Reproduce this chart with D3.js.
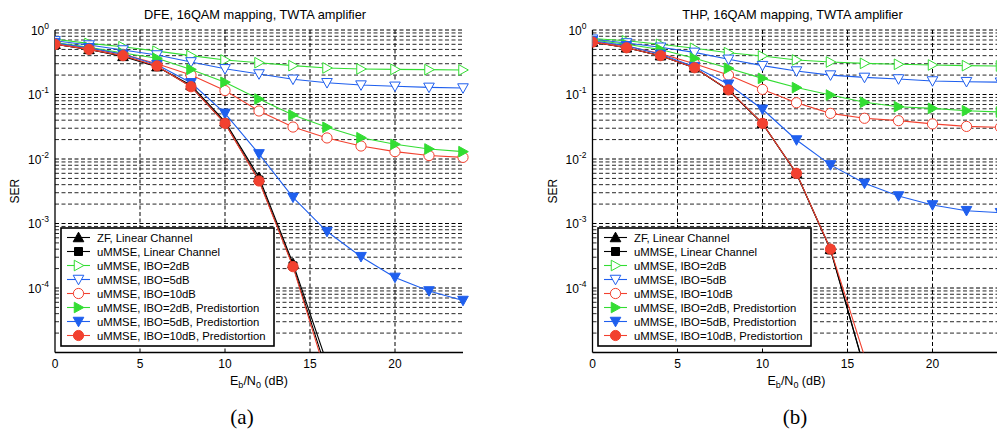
<!DOCTYPE html>
<html>
<head>
<meta charset="utf-8">
<script src="https://cdn.jsdelivr.net/npm/d3@7"></script>
<style>
  html, body { margin: 0; padding: 0; background: #fff; }
  svg { display: block; }
  text { font-family: "Liberation Sans", Arial, Helvetica, sans-serif; fill: #000; }
</style>
</head>
<body>
<svg id="fig" width="997" height="434"></svg>
<script>
// Eb/N0 grid (dB)
const snr = [0, 2, 4, 6, 8, 10, 12, 14, 16, 18, 20, 22, 24];

// Legend labels, in plotting order
const seriesNames = [
  "ZF, Linear Channel",
  "uMMSE, Linear Channel",
  "uMMSE, IBO=2dB",
  "uMMSE, IBO=5dB",
  "uMMSE, IBO=10dB",
  "uMMSE, IBO=2dB, Predistortion",
  "uMMSE, IBO=5dB, Predistortion",
  "uMMSE, IBO=10dB, Predistortion"
];

// DFE panel: symbol error rate per curve (aligned with snr)
const dfeZf       = [0.60, 0.50, 0.39, 0.27, 0.14, 0.038, 0.0052, 2.4e-4, 6.8e-6];
const dfeMmseLin  = [0.60, 0.50, 0.40, 0.275, 0.133, 0.036, 0.0047, 2.2e-4, 5.0e-6];
const dfeIbo2     = [0.72, 0.62, 0.55, 0.47, 0.40, 0.343, 0.311, 0.28, 0.258, 0.249, 0.245, 0.243, 0.24];
const dfeIbo5     = [0.68, 0.585, 0.49, 0.41, 0.32, 0.25, 0.208, 0.172, 0.152, 0.14, 0.134, 0.129, 0.126];
const dfeIbo10    = [0.62, 0.52, 0.42, 0.30, 0.20, 0.115, 0.0555, 0.0313, 0.0212, 0.0159, 0.013, 0.0113, 0.0106];
const dfeIbo2Pd   = [0.64, 0.54, 0.44, 0.364, 0.245, 0.155, 0.085, 0.048, 0.031, 0.0214, 0.0169, 0.0143, 0.013];
const dfeIbo5Pd   = [0.63, 0.53, 0.42, 0.29, 0.152, 0.051, 0.012, 0.00255, 7.5e-4, 3.06e-4, 1.46e-4, 9.0e-5, 6.4e-5];
const dfeIbo10Pd  = [0.60, 0.50, 0.40, 0.277, 0.132, 0.0357, 0.00456, 2.14e-4, 4.1e-6];

// THP panel
const thpZf       = [0.65, 0.53, 0.40, 0.26, 0.118, 0.0357, 0.006, 4.0e-4, 5.7e-6];
const thpMmseLin  = [0.65, 0.53, 0.40, 0.26, 0.116, 0.0355, 0.0059, 3.9e-4, 5.5e-6];
const thpIbo2     = [0.74, 0.68, 0.60, 0.52, 0.445, 0.395, 0.343, 0.319, 0.304, 0.294, 0.287, 0.28, 0.277];
const thpIbo5     = [0.72, 0.63, 0.54, 0.45, 0.351, 0.28, 0.231, 0.20, 0.184, 0.174, 0.162, 0.158, 0.155];
const thpIbo10    = [0.66, 0.56, 0.43, 0.30, 0.20, 0.12, 0.0746, 0.051, 0.0428, 0.0393, 0.035, 0.032, 0.031];
const thpIbo2Pd   = [0.70, 0.60, 0.50, 0.364, 0.255, 0.178, 0.128, 0.098, 0.0757, 0.0647, 0.061, 0.056, 0.0535];
const thpIbo5Pd   = [0.68, 0.57, 0.42, 0.27, 0.144, 0.059, 0.0197, 0.0081, 0.0042, 0.00267, 0.00194, 0.00158, 0.00147];
const thpIbo10Pd  = [0.65, 0.53, 0.40, 0.26, 0.118, 0.0357, 0.006, 4.0e-4, 8.7e-6];

// Axis ticks
const xTicks = [0, 5, 10, 15, 20];
const yDecades = [0, -1, -2, -3, -4];

// Curve styling: colour, marker shape, filled or open
const styles = [
  { color: "#000000", shape: "up",    fill: true  },
  { color: "#000000", shape: "square", fill: true },
  { color: "#33dd33", shape: "right", fill: false },
  { color: "#1f5fee", shape: "down",  fill: false },
  { color: "#f2412f", shape: "circle", fill: false },
  { color: "#33dd33", shape: "right", fill: true  },
  { color: "#1f5fee", shape: "down",  fill: true  },
  { color: "#f2412f", shape: "circle", fill: true }
];

function markerPath(shape) {
  const s = 5.3;
  switch (shape) {
    case "up":     return `M0,${-s}L${s},${s*0.8}L${-s},${s*0.8}Z`;
    case "down":   return `M0,${s}L${s},${-s*0.8}L${-s},${-s*0.8}Z`;
    case "right":  return `M${s},0L${-s*0.8},${s}L${-s*0.8},${-s}Z`;
    case "square": return `M-4,-4H4V4H-4Z`;
    case "circle": return d3.symbol(d3.symbolCircle, 82)();
  }
}

const svg = d3.select("#fig");

const panels = [
  { title: "DFE, 16QAM mapping, TWTA amplifier", left: 55, right: 463, tag: "(a)", tagX: 242,
    serX: 15, legendX: 61,
    series: [dfeZf, dfeMmseLin, dfeIbo2, dfeIbo5, dfeIbo10, dfeIbo2Pd, dfeIbo5Pd, dfeIbo10Pd] },
  { title: "THP, 16QAM mapping, TWTA amplifier", left: 592.5, right: 1000.5, tag: "(b)", tagX: 795,
    serX: 553, legendX: 598,
    series: [thpZf, thpMmseLin, thpIbo2, thpIbo5, thpIbo10, thpIbo2Pd, thpIbo5Pd, thpIbo10Pd] }
];

const plotTop = 30, plotBottom = 352.5;

panels.forEach((p, pi) => {
  const x = d3.scaleLinear().domain([0, 24]).range([p.left, p.right]);
  const y = d3.scaleLog().domain([1e-5, 1]).range([plotBottom, plotTop]);
  const g = svg.append("g");

  const clipId = "clip" + pi;
  g.append("clipPath").attr("id", clipId)
    .append("rect").attr("x", p.left).attr("y", plotTop - 8)
    .attr("width", p.right - p.left + 8).attr("height", plotBottom - plotTop + 8);

  // grid
  const grid = g.append("g").attr("stroke", "#000").attr("stroke-width", 1)
    .attr("stroke-dasharray", "4,2.5").attr("fill", "none");
  xTicks.filter(v => v > 0).forEach(v => {
    grid.append("line").attr("x1", x(v)).attr("x2", x(v)).attr("y1", plotTop).attr("y2", plotBottom);
  });
  const gridVals = [];
  for (let e = -5; e < 0; e++) for (let m = 1; m <= 9; m++) gridVals.push(m * Math.pow(10, e));
  gridVals.push(1);
  gridVals.filter(v => v > 1e-5).forEach(v => {
    const isDecade = Math.abs(Math.log10(v) - Math.round(Math.log10(v))) < 1e-9;
    grid.append("line").attr("x1", p.left).attr("x2", p.right).attr("y1", y(v)).attr("y2", y(v))
      .attr("stroke-opacity", isDecade ? 1 : 0.85);
  });

  // axes
  g.append("line").attr("x1", p.left).attr("x2", p.left).attr("y1", plotTop).attr("y2", plotBottom)
    .attr("stroke", "#000").attr("stroke-width", 1.3);
  g.append("line").attr("x1", p.left).attr("x2", p.right).attr("y1", plotBottom).attr("y2", plotBottom)
    .attr("stroke", "#000").attr("stroke-width", 1.3);

  // x tick labels
  xTicks.forEach(v => {
    g.append("text").attr("x", x(v)).attr("y", plotBottom + 15).attr("text-anchor", "middle")
      .attr("font-size", 12).text(v);
  });
  // y tick labels
  yDecades.forEach(e => {
    const t = g.append("text").attr("x", p.left - 6).attr("y", y(Math.pow(10, e)) + 4.5)
      .attr("text-anchor", "end").attr("font-size", 12);
    t.append("tspan").text("10");
    t.append("tspan").attr("dy", -6).attr("font-size", 8.5).text(String(e));
  });

  // labels
  g.append("text").attr("x", (p.left + p.right) / 2 - 4).attr("y", 19).attr("text-anchor", "middle")
    .attr("font-size", 12.8).text(p.title);
  g.append("text").attr("transform", `translate(${p.serX + 4},${(plotTop + plotBottom) / 2}) rotate(-90)`)
    .attr("text-anchor", "middle").attr("font-size", 12).text("SER");
  const xl = g.append("text").attr("x", (p.left + p.right) / 2).attr("y", 385)
    .attr("text-anchor", "middle").attr("font-size", 12.5);
  xl.append("tspan").text("E");
  xl.append("tspan").attr("dy", 3).attr("font-size", 9).text("b");
  xl.append("tspan").attr("dy", -3).text("/N");
  xl.append("tspan").attr("dy", 3).attr("font-size", 9).text("0");
  xl.append("tspan").attr("dy", -3).text(" (dB)");
  g.append("text").attr("x", p.tagX).attr("y", 424).attr("text-anchor", "middle")
    .style("font-family", '"Liberation Serif", "Times New Roman", serif')
    .attr("font-size", 21).text(p.tag);

  // curves
  const plot = g.append("g").attr("clip-path", `url(#${clipId})`);
  const line = d3.line().x(d => x(d[0])).y(d => y(d[1]));
  p.series.forEach((vals, i) => {
    const st = styles[i];
    const pts = vals.map((v, k) => [snr[k], v]);
    plot.append("path").attr("d", line(pts)).attr("fill", "none")
      .attr("stroke", st.color).attr("stroke-width", 1.1);
    plot.selectAll(null).data(pts.filter(d => d[1] >= 1e-5)).enter().append("path")
      .attr("transform", d => `translate(${x(d[0])},${y(d[1])})`)
      .attr("d", markerPath(st.shape))
      .attr("fill", st.fill ? st.color : "#fff")
      .attr("stroke", st.color).attr("stroke-width", 1);
  });

  // legend
  const lg = g.append("g");
  const lx = p.legendX, ly = 228, lw = 213, lh = 118;
  lg.append("rect").attr("x", lx).attr("y", ly).attr("width", lw).attr("height", lh)
    .attr("fill", "#fff").attr("stroke", "#000").attr("stroke-width", 1.6);
  seriesNames.forEach((name, i) => {
    const st = styles[i];
    const cy = ly + 9.5 + i * 14;
    lg.append("line").attr("x1", lx + 6).attr("x2", lx + 29).attr("y1", cy).attr("y2", cy)
      .attr("stroke", st.color).attr("stroke-width", 1.1);
    lg.append("path").attr("transform", `translate(${lx + 17.5},${cy})`).attr("d", markerPath(st.shape))
      .attr("fill", st.fill ? st.color : "#fff").attr("stroke", st.color).attr("stroke-width", 1);
    lg.append("text").attr("x", lx + 36).attr("y", cy + 4.2).attr("font-size", 11.3).text(name);
  });
});
</script>
</body>
</html>
